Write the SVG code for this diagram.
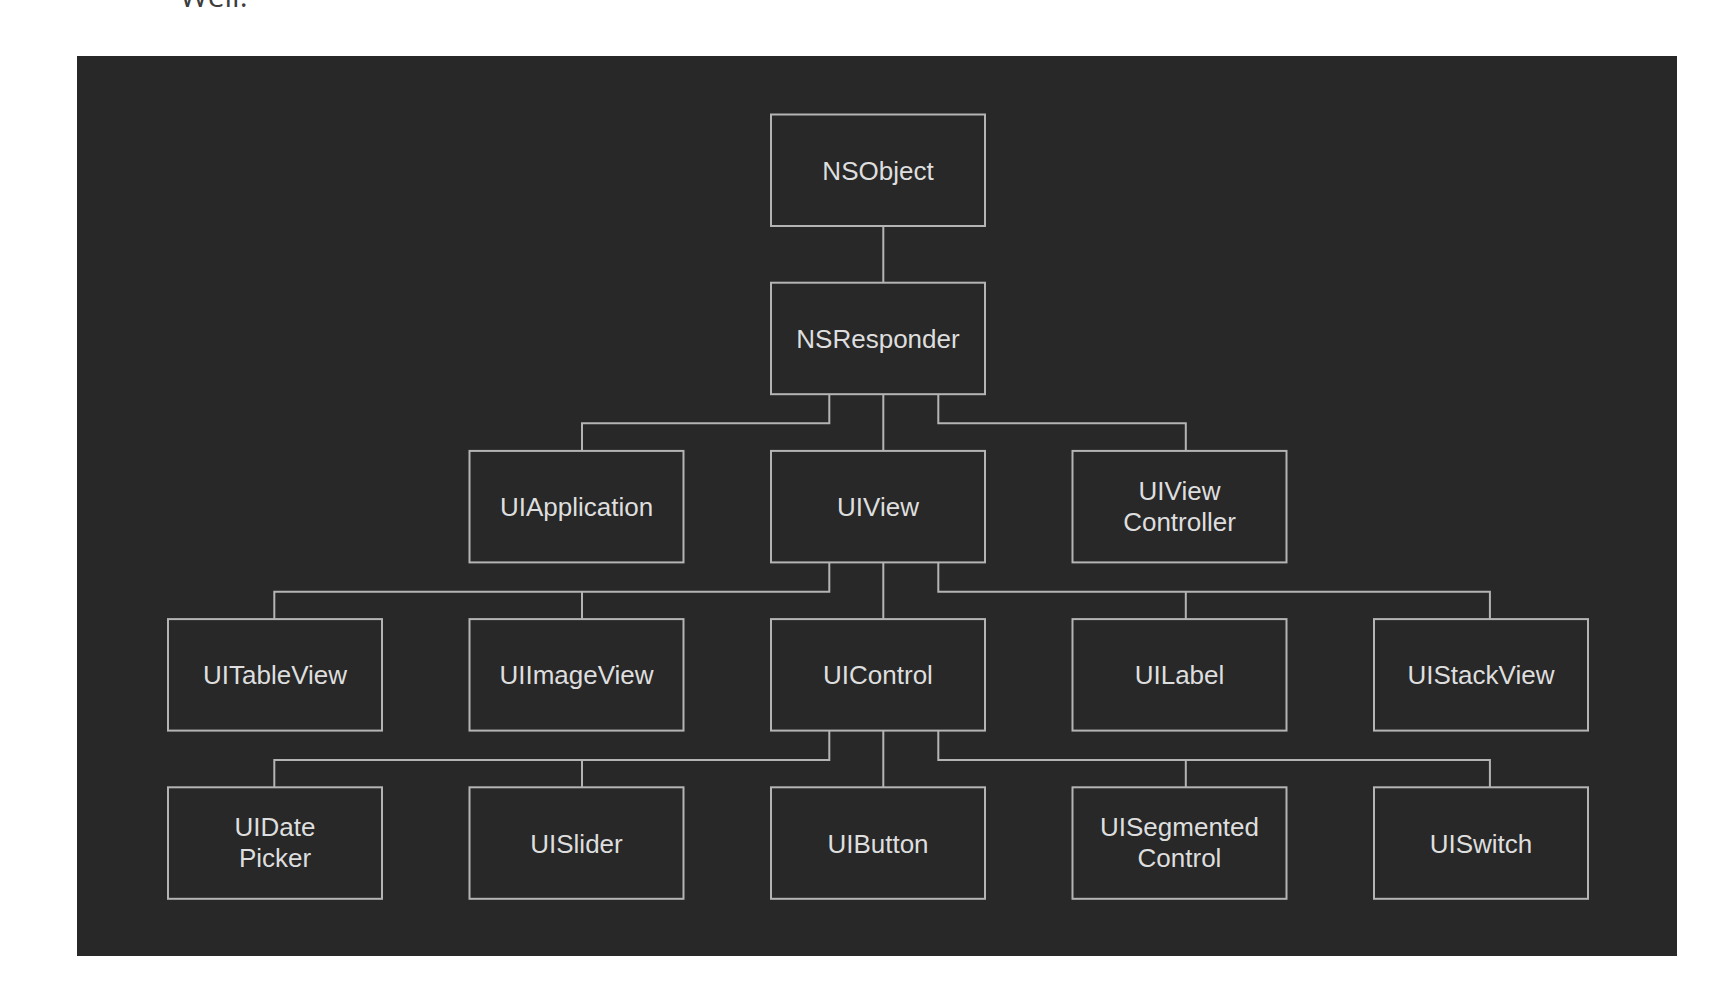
<svg xmlns="http://www.w3.org/2000/svg" width="1716" height="982" viewBox="0 0 1716 982">
<style>
.box{fill:#282828;stroke:#b4b4b4;stroke-width:2}
.lbl{font-family:"Liberation Sans",Arial,sans-serif;font-size:26px;fill:#dedede;text-anchor:middle}
.con{fill:none;stroke:#b4b4b4;stroke-width:2}
</style>
<rect x="0" y="0" width="1716" height="982" fill="#ffffff"/>
<text x="180" y="7" font-family="'Open Sans',sans-serif" font-size="30" fill="#3d3d3d">Well.</text>
<rect x="77" y="56" width="1600" height="900" fill="#282828"/>
<g id="connectors">
<path class="con" d="M883.3 226 V282.7"/>
<path class="con" d="M829.3 393.3 V423.3 H582 V450.9"/>
<path class="con" d="M883.3 393.3 V450.9"/>
<path class="con" d="M938.3 393.3 V423.3 H1185.8 V450.9"/>
<path class="con" d="M829.3 561.5 V591.8 H274.3 V619.1"/>
<path class="con" d="M582 591.8 V619.1"/>
<path class="con" d="M883.3 561.5 V619.1"/>
<path class="con" d="M938.3 561.5 V591.8 H1489.9 V619.1"/>
<path class="con" d="M1185.8 591.8 V619.1"/>
<path class="con" d="M829.3 729.8 V760 H274.3 V787.3"/>
<path class="con" d="M582 760 V787.3"/>
<path class="con" d="M883.3 729.8 V787.3"/>
<path class="con" d="M938.3 729.8 V760 H1489.9 V787.3"/>
<path class="con" d="M1185.8 760 V787.3"/>
</g>
<g id="NSObject"><rect class="box" x="771" y="114.5" width="214" height="111.5"/><text class="lbl" x="878" y="180">NSObject</text></g>
<g id="NSResponder"><rect class="box" x="771" y="282.7" width="214" height="111.5"/><text class="lbl" x="878" y="348">NSResponder</text></g>
<g id="UIApplication"><rect class="box" x="469.5" y="450.9" width="214" height="111.5"/><text class="lbl" x="576.5" y="516.2">UIApplication</text></g>
<g id="UIView"><rect class="box" x="771" y="450.9" width="214" height="111.5"/><text class="lbl" x="878" y="516.2">UIView</text></g>
<g id="UIViewController"><rect class="box" x="1072.5" y="450.9" width="214" height="111.5"/><text class="lbl" x="1179.5" y="500">UIView</text><text class="lbl" x="1179.5" y="531">Controller</text></g>
<g id="UITableView"><rect class="box" x="168" y="619.1" width="214" height="111.5"/><text class="lbl" x="275" y="684.4">UITableView</text></g>
<g id="UIImageView"><rect class="box" x="469.5" y="619.1" width="214" height="111.5"/><text class="lbl" x="576.5" y="684.4">UIImageView</text></g>
<g id="UIControl"><rect class="box" x="771" y="619.1" width="214" height="111.5"/><text class="lbl" x="878" y="684.4">UIControl</text></g>
<g id="UILabel"><rect class="box" x="1072.5" y="619.1" width="214" height="111.5"/><text class="lbl" x="1179.5" y="684.4">UILabel</text></g>
<g id="UIStackView"><rect class="box" x="1374" y="619.1" width="214" height="111.5"/><text class="lbl" x="1481" y="684.4">UIStackView</text></g>
<g id="UIDatePicker"><rect class="box" x="168" y="787.3" width="214" height="111.5"/><text class="lbl" x="275" y="836.3">UIDate</text><text class="lbl" x="275" y="867.3">Picker</text></g>
<g id="UISlider"><rect class="box" x="469.5" y="787.3" width="214" height="111.5"/><text class="lbl" x="576.5" y="852.6">UISlider</text></g>
<g id="UIButton"><rect class="box" x="771" y="787.3" width="214" height="111.5"/><text class="lbl" x="878" y="852.6">UIButton</text></g>
<g id="UISegmentedControl"><rect class="box" x="1072.5" y="787.3" width="214" height="111.5"/><text class="lbl" x="1179.5" y="836.3">UISegmented</text><text class="lbl" x="1179.5" y="867.3">Control</text></g>
<g id="UISwitch"><rect class="box" x="1374" y="787.3" width="214" height="111.5"/><text class="lbl" x="1481" y="852.6">UISwitch</text></g>
</svg>
